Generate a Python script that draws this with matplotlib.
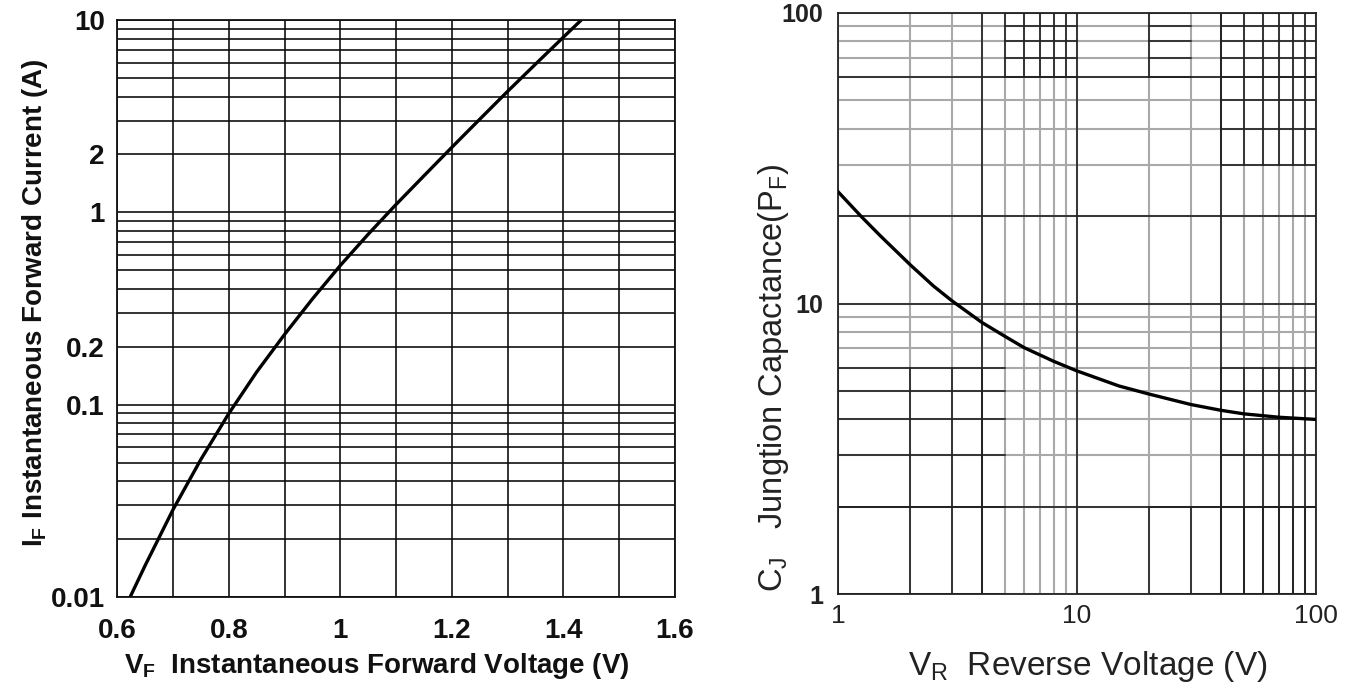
import matplotlib
matplotlib.use('Agg')
import matplotlib.pyplot as plt
import matplotlib.ticker as mticker

plt.rcParams['font.family'] = ['Liberation Sans', 'DejaVu Sans']

# forward characteristic
vf = [0.623, 0.65, 0.7, 0.75, 0.8, 0.85, 0.9, 0.95, 1.0, 1.05, 1.1, 1.15,
      1.2, 1.25, 1.3, 1.35, 1.4, 1.432]
i_f = [0.01, 0.0146, 0.0285, 0.052, 0.09, 0.148, 0.232, 0.355, 0.53, 0.77,
       1.1, 1.55, 2.18, 3.05, 4.26, 5.9, 8.15, 10]
if_ticks = [0.01, 0.1, 0.2, 1, 2, 10]
if_labels = ['0.01', '0.1', '0.2', '1', '2', '10']
vf_ticks = [0.6, 0.8, 1.0, 1.2, 1.4, 1.6]
vf_labels = ['0.6', '0.8', '1', '1.2', '1.4', '1.6']

# junction capacitance
vr = [1, 1.25, 1.5, 2, 2.5, 3, 4, 5, 6, 8, 10, 15, 20, 30, 40, 50, 70, 100]
cj = [24.2, 19.9, 17.1, 13.6, 11.5, 10.2, 8.6, 7.7, 7.05, 6.32, 5.86, 5.2,
      4.88, 4.49, 4.29, 4.17, 4.06, 3.99]
log_ticks = [1, 10, 100]
log_labels = ['1', '10', '100']


def minors(lo, hi):
    out = []
    d = lo
    while d < hi:
        out += [d * k for k in range(1, 10)]
        d *= 10
    return out + [hi]


fig = plt.figure(figsize=(13.49, 6.89), dpi=100)

# ---- left: forward current vs voltage
ax1 = fig.add_axes([117.3 / 1349, 92 / 689, 557.7 / 1349, 577 / 689])
ax1.set_yscale('log')
ax1.set_xlim(0.6, 1.6)
ax1.set_ylim(0.01, 10)
ax1.set_yticks(if_ticks)
ax1.set_yticklabels(if_labels)
ax1.yaxis.set_minor_locator(mticker.FixedLocator(minors(0.01, 10)))
ax1.yaxis.set_minor_formatter(mticker.NullFormatter())
ax1.set_xticks(vf_ticks)
ax1.set_xticklabels(vf_labels)
ax1.xaxis.set_minor_locator(mticker.MultipleLocator(0.1))
ax1.grid(which='both', color='#111111', lw=1.2)
ax1.set_axisbelow(True)
ax1.plot(vf, i_f, color='black', lw=2.4, solid_capstyle='butt')
ax1.tick_params(which='both', length=0)
ax1.tick_params(axis='y', pad=9)
ax1.tick_params(axis='x', pad=15)
for t in ax1.get_xticklabels() + ax1.get_yticklabels():
    t.set_fontsize(20)
    t.set_fontweight('bold')
    t.set_color('#111111')
for s in ax1.spines.values():
    s.set_color('#111111')
    s.set_linewidth(1.3)
ax1.set_xlabel(r'V$_\mathregular{F}$  Instantaneous Forward Voltage (V)',
               fontsize=20, fontweight='bold', color='#111111')
ax1.set_ylabel(r'I$_\mathregular{F}$ Instantaneous Forward Current (A)',
               fontsize=20, fontweight='bold', color='#111111')
ax1.xaxis.set_label_coords(0.465, -0.093)
ax1.yaxis.set_label_coords(-0.12, 0.51)

# ---- right: junction capacitance vs reverse voltage
ax2 = fig.add_axes([838.3 / 1349, 95 / 689, 477.4 / 1349, 581 / 689])
ax2.set_xscale('log')
ax2.set_yscale('log')
ax2.set_xlim(1, 100)
ax2.set_ylim(1, 100)
for axis in (ax2.xaxis, ax2.yaxis):
    axis.set_major_locator(mticker.FixedLocator(log_ticks))
    axis.set_major_formatter(mticker.FixedFormatter(log_labels))
    axis.set_minor_locator(mticker.FixedLocator(minors(1, 100)))
    axis.set_minor_formatter(mticker.NullFormatter())
ax2.grid(which='both', color='#a9a9a9', lw=1.5)
ax2.set_axisbelow(True)

# darker patches of the printed grid
dark = '#222222'
grid_pos = minors(1, 100)
for x in [4, 10, 40]:
    ax2.plot([x, x], [1, 100], color=dark, lw=1.2, zorder=1.5)
for y in [2, 10, 20, 60]:
    ax2.plot([1, 100], [y, y], color=dark, lw=1.2, zorder=1.5)
blocks = [(5, 10, 60, 100), (20, 30, 60, 100), (40, 100, 30, 100),
          (1, 5, 1, 6), (40, 100, 1, 6), (20, 100, 1, 2)]
for x0, x1, y0, y1 in blocks:
    for x in grid_pos:
        if x0 <= x < x1:
            ax2.plot([x, x], [y0, y1], color=dark, lw=1.2, zorder=1.5)
    for y in grid_pos:
        if y0 <= y <= y1:
            ax2.plot([x0, x1], [y, y], color=dark, lw=1.2, zorder=1.5)

ax2.plot(vr, cj, color='black', lw=2.4, zorder=3)
ax2.tick_params(which='both', length=0)
ax2.tick_params(axis='y', pad=11)
ax2.tick_params(axis='x', pad=7)
for t in ax2.get_yticklabels():
    t.set_fontsize(18)
    t.set_fontweight('bold')
    t.set_color('#222222')
for t in ax2.get_xticklabels():
    t.set_fontsize(19)
    t.set_color('#222222')
for s in ax2.spines.values():
    s.set_color('#222222')
    s.set_linewidth(1.3)
ax2.set_xlabel(r'V$_\mathregular{R}$  Reverse Voltage (V)', fontsize=24,
               color='#222222')
ax2.set_ylabel(r'C$_\mathregular{J}$   Jungtion Capactance(P$_\mathregular{F}$)',
               fontsize=23.5, color='#222222')
ax2.xaxis.set_label_coords(0.523, -0.094)
ax2.yaxis.set_label_coords(-0.099, 0.373)

fig.savefig('out.png', dpi=100)
